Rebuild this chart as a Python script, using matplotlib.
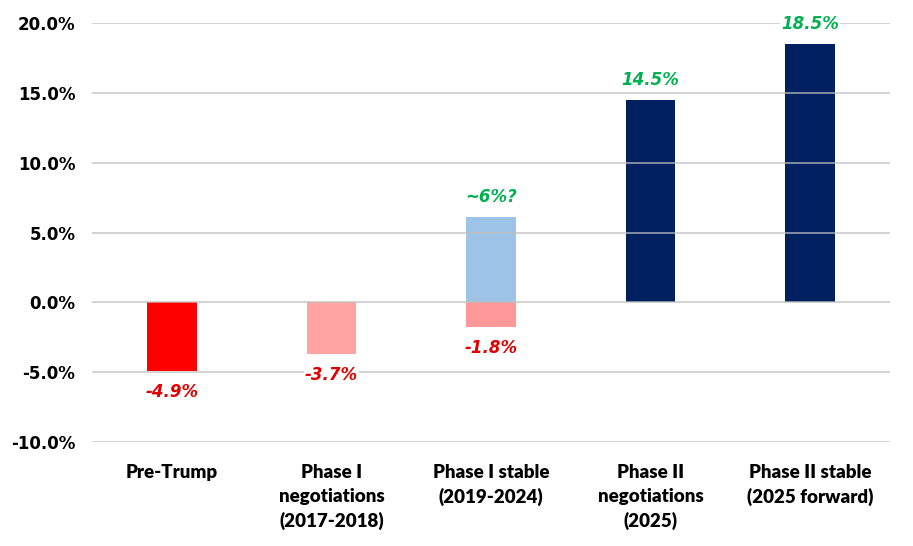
import numpy as np
import matplotlib.pyplot as plt

categories = ["Pre-Trump", "Phase I\nnegotiations\n(2017-2018)", "Phase I stable\n(2019-2024)",
              "Phase II\nnegotiations\n(2025)", "Phase II stable\n(2025 forward)"]
neg_values = [-4.9, -3.7, -1.8, 0, 0]
pos_values = [0, 0, 6.1, 14.5, 18.5]
neg_labels = ["-4.9%", "-3.7%", "-1.8%", "", ""]
pos_labels = ["", "", "~6%?", "14.5%", "18.5%"]
neg_colors = ["#FF0000", "#FFA3A3", "#FF9999", "#FFFFFF", "#FFFFFF"]
pos_colors = ["#FFFFFF", "#FFFFFF", "#9DC3E6", "#002060", "#002060"]
yticks = [-10, -5, 0, 5, 10, 15, 20]

fig = plt.figure(figsize=(9.13, 5.46), dpi=100)
ax = fig.add_axes([92 / 913, 1 - 442 / 546, 798 / 913, 419 / 546])

x = np.arange(len(categories)) + 0.5
w = 0.31
box = dict(facecolor="white", edgecolor="none", pad=1)
for i in range(len(categories)):
    if neg_values[i] < 0:
        ax.bar(x[i], neg_values[i], w, color=neg_colors[i], zorder=2)
        ax.text(x[i], neg_values[i] - 0.85, neg_labels[i], ha="center", va="top",
                color="#E00000", fontsize=12, fontweight="bold", style="italic",
                bbox=box, zorder=5)
    if pos_values[i] > 0:
        ax.bar(x[i], pos_values[i], w, color=pos_colors[i], zorder=2)
        ax.text(x[i], pos_values[i] + 0.8, pos_labels[i], ha="center", va="bottom",
                color="#00B050", fontsize=12, fontweight="bold", style="italic",
                bbox=box, zorder=5)

ax.set_xlim(0, 5)
ax.set_ylim(-10, 20)
ax.set_yticks(yticks)
ax.set_yticklabels([f"{v:.1f}%" for v in yticks], fontsize=12, fontweight="bold")
for v in yticks:
    ax.axhline(v, color="#BFBFBF", lw=1.2, zorder=3, alpha=0.8)
ax.set_xticks(x)
ax.set_xticklabels(categories, fontsize=13.5, fontweight="heavy", family="Lato", linespacing=1.45)
ax.tick_params(axis="both", length=0)
ax.tick_params(axis="x", pad=16)
ax.tick_params(axis="y", pad=12)
for s in ax.spines.values():
    s.set_visible(False)

fig.savefig("out.png", dpi=100)
